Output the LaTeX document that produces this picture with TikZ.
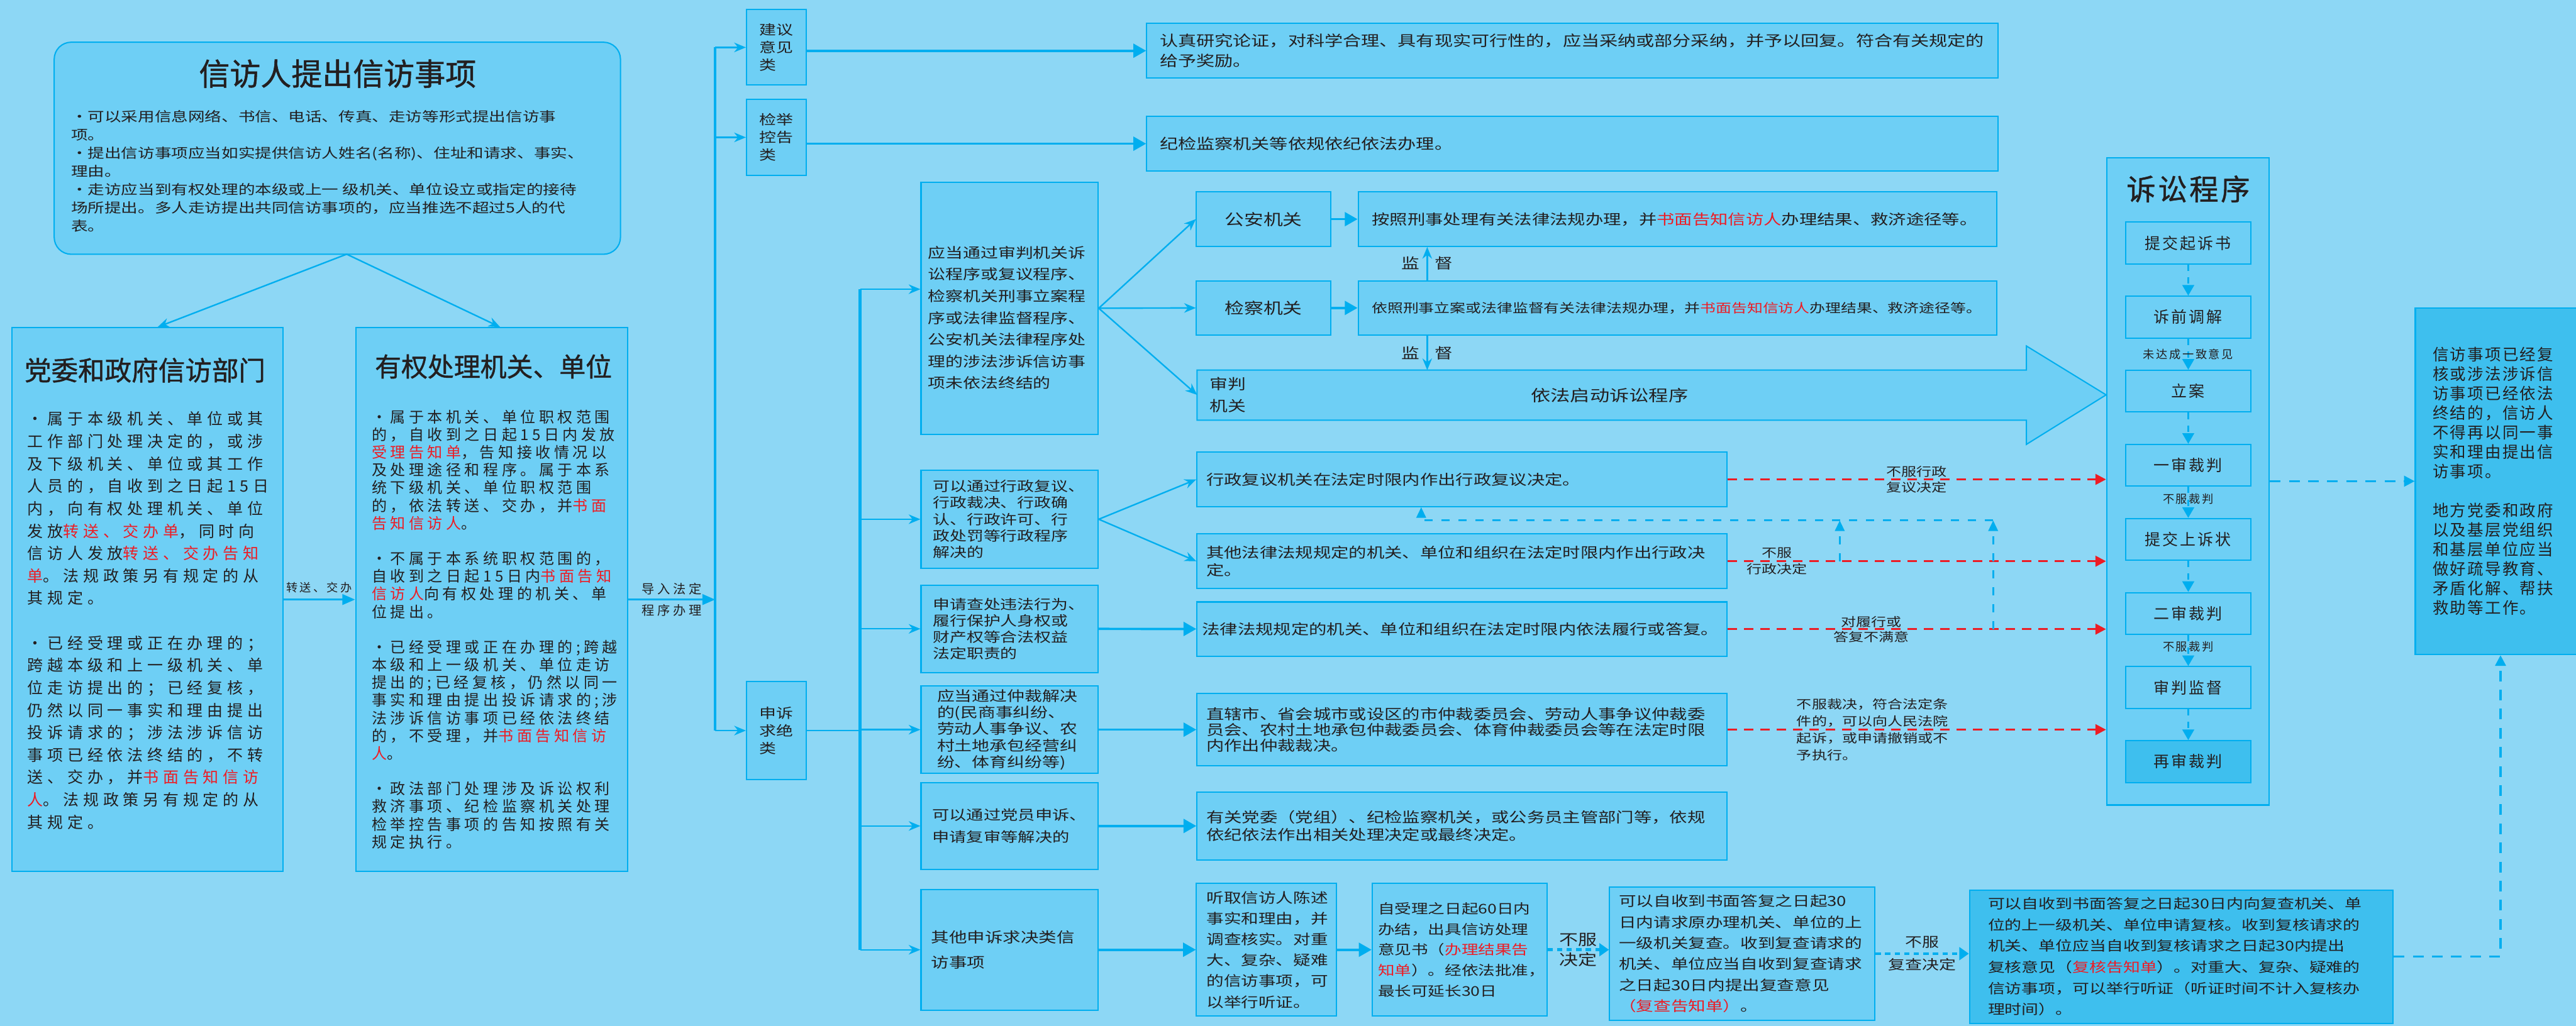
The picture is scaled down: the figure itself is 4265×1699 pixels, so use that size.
\documentclass[tikz,border=0pt]{standalone}
\usepackage{fontspec}
\setmainfont{Noto Sans CJK SC}
\newfontfamily\wfont[FakeStretch=1.25]{Noto Sans CJK SC}
\newfontfamily\nfont{Noto Sans CJK SC}
\newfontfamily\hfont[FakeBold=1]{Noto Sans CJK SC}
\usetikzlibrary{arrows.meta,positioning}
\definecolor{sky}{RGB}{141,215,245}
\definecolor{pane}{RGB}{110,207,245}
\definecolor{deep}{RGB}{62,191,238}
\definecolor{wire}{RGB}{0,174,239}
\definecolor{alert}{RGB}{237,28,36}
\definecolor{ink}{RGB}{35,31,32}
\newcommand{\wsz}[2]{\wfont\fontsize{#1pt}{#2pt}\selectfont}
\newcommand{\nsz}[3]{\nfont\addfontfeatures{LetterSpace=#3}\fontsize{#1pt}{#2pt}\selectfont}
\newcommand{\hsz}[1]{\hfont\fontsize{#1pt}{#1pt}\selectfont}
\newcommand{\hot}[1]{\textcolor{alert}{#1}}
\tikzset{
  pane/.style 2 args={draw=wire,line width=0.6pt,fill=pane,inner sep=0pt,
    minimum width=#1,minimum height=#2},
  say/.style={text=ink,align=left,inner sep=0pt},
  tag/.style={text=ink,align=center,inner sep=0pt},
  bus/.style={draw=wire,line width=1.3pt},
  fine/.style={draw=wire,line width=0.7pt,-{Stealth[length=5.5pt,width=4.5pt]}},
  blunt/.style={draw=wire,line width=0.8pt,-{Triangle[length=6pt,width=5pt]}},
  bold/.style={draw=wire,line width=1.1pt,-{Triangle[length=6pt,width=6.5pt]}},
  redrun/.style={draw=alert,line width=1pt,dash pattern=on 4.3pt off 3.4pt,
    -{Triangle[length=5pt,width=5pt]}},
  bluerun/.style={draw=wire,line width=0.9pt,dash pattern=on 3.8pt off 4.2pt,
    -{Triangle[length=5pt,width=4.5pt]}},
  steprun/.style={draw=wire,line width=0.9pt,dash pattern=on 3pt off 3pt,
    -{Triangle[length=5pt,width=5.5pt]}},
  longrun/.style={draw=wire,line width=1pt,dash pattern=on 5pt off 4pt,
    -{Triangle[length=5pt,width=5pt]}},
  dotrun/.style={draw=wire,line width=1.3pt,dash pattern=on 2.5pt off 2pt,
    -{Triangle[length=4.5pt,width=6pt]}},
}

\begin{document}
\begin{tikzpicture}[x=0.01cm,y=-0.01cm]
\useasboundingbox (0,0) rectangle (4265,1699);
\fill[sky] (0,0) rectangle (4265,1699);

% petition and the two receiving offices
\node[pane={9.37cm}{3.51cm},rounded corners=8pt] (petition) at (558.5,245.5) {};
\node[say,font={\hsz{14.5}}] (petition-h) at (559,122) {信访人提出信访事项};
\node[say,font={\wsz{6.3}{8.6}},anchor=north west] (petition-t) at (117,182)
  {・可以采用信息网络、书信、电话、传真、走访等形式提出信访事\\项。\\
   ・提出信访事项应当如实提供信访人姓名(名称)、住址和请求、事实、\\理由。\\
   ・走访应当到有权处理的本级或上一 级机关、单位设立或指定的接待\\
   场所提出。多人走访提出共同信访事项的，应当推选不超过5人的代\\表。};

\node[pane={4.48cm}{9cm}] (dept) at (244,993) {};
\node[say,font={\hsz{12.6}}] (dept-h) at (240,613) {党委和政府信访部门};
\node[say,font={\nsz{7.4}{10.55}{27}},anchor=north west] (dept-t) at (45,681)
  {・属于本级机关、单位或其\\工作部门处理决定的，或涉\\及下级机关、单位或其工作\\
   人员的，自收到之日起15日\\内，向有权处理机关、单位\\发放\hot{转送、交办单}，同时向\\
   信访人发放\hot{转送、交办告知}\\\hot{单}。法规政策另有规定的从\\其规定。\\[10.55pt]
   ・已经受理或正在办理的；\\跨越本级和上一级机关、单\\位走访提出的；已经复核，\\
   仍然以同一事实和理由提出\\投诉请求的；涉法涉诉信访\\事项已经依法终结的，不转\\
   送、交办，并\hot{书面告知信访}\\\hot{人}。法规政策另有规定的从\\其规定。};

\node[pane={4.5cm}{9cm}] (auth) at (814,993) {};
\node[say,font={\hsz{12.4}}] (auth-h) at (817,607) {有权处理机关、单位};
\node[say,font={\nsz{7.11}{8.34}{23}},anchor=north west] (auth-t) at (615,678)
  {・属于本机关、单位职权范围\\的，自收到之日起15日内发放\\\hot{受理告知单}，告知接收情况以\\
   及处理途径和程序。属于本系\\统下级机关、单位职权范围\\的，依法转送、交办，并\hot{书面}\\
   \hot{告知信访人}。\\[8.34pt]
   ・不属于本系统职权范围的，\\自收到之日起15日内\hot{书面告知}\\\hot{信访人}向有权处理的机关、单\\
   位提出。\\[8.34pt]
   ・已经受理或正在办理的;跨越\\本级和上一级机关、单位走访\\提出的;已经复核，仍然以同一\\
   事实和理由提出投诉请求的;涉\\法涉诉信访事项已经依法终结\\的，不受理，并\hot{书面告知信访}\\
   \hot{人}。\\[8.34pt]
   ・政法部门处理涉及诉讼权利\\救济事项、纪检监察机关处理\\检举控告事项的告知按照有关\\规定执行。};

\coordinate (apex) at (574,421);
\draw[fine] (apex) -- ([xshift=0.17cm]dept.north);
\draw[fine] (apex) -- ([xshift=0.14cm]auth.north);
\draw[blunt] (dept.east) -- node[tag,font={\nsz{5.4}{6}{18}},yshift=0.2cm] (pass-l) {转送、交办} (auth.west);

% three kinds of matters
\node[pane={0.99cm}{1.25cm}] (jianyi) at (1285.5,78.5) {};
\node[pane={0.99cm}{1.25cm}] (jianju) at (1285.5,227.5) {};
\node[pane={0.99cm}{1.62cm}] (shensu) at (1285.5,1210) {};
\node[say,font={\wsz{6.37}{8.25}}] (jianyi-t) at (jianyi) {建议\\意见\\类};
\node[say,font={\wsz{6.37}{8.25}}] (jianju-t) at (jianju) {检举\\控告\\类};
\node[say,font={\wsz{6.37}{8.25}}] (shensu-t) at (shensu) {申诉\\求绝\\类};

\coordinate (b1) at (1184,993);
\draw[blunt] (auth.east) -- node[tag,font={\nsz{6}{10}{24}}] (lead-l) {导入法定\\程序办理} (b1);
\draw[bus] (b1 |- jianyi.west) -- (b1 |- shensu.west);
\foreach \n in {jianyi,jianju,shensu}
  \draw[fine] (b1 |- \n.west) -- (\n.west);

\node[pane={14.09cm}{0.9cm}] (jytext) at (2603.5,84) {};
\node[say,font={\wsz{6.9}{9.4}},anchor=west] (jytext-t) at ([xshift=0.22cm]jytext.west)
  {认真研究论证，对科学合理、具有现实可行性的，应当采纳或部分采纳，并予以回复。符合有关规定的\\给予奖励。};
\node[pane={14.09cm}{0.9cm}] (jjtext) at (2603.5,238) {};
\node[say,font={\wsz{6.9}{9.4}},anchor=west] (jjtext-t) at ([xshift=0.22cm]jjtext.west) {纪检监察机关等依规依纪依法办理。};
\draw[bold] (jianyi.east |- jytext.west) -- (jytext.west);
\draw[bold] (jianju.east |- jjtext.west) -- (jjtext.west);

% appeal cases
\node[pane={2.93cm}{4.17cm}] (caseA) at (1671.5,510.5) {};
\node[pane={2.93cm}{1.62cm}] (caseB) at (1671.5,860) {};
\node[pane={2.93cm}{1.45cm}] (caseC) at (1671.5,1041.5) {};
\node[pane={2.93cm}{1.45cm}] (caseD) at (1671.5,1208.5) {};
\node[pane={2.93cm}{1.44cm}] (caseE) at (1671.5,1368) {};
\node[pane={2.93cm}{2cm}] (caseF) at (1671.5,1573) {};
\node[say,font={\wsz{6.6}{10.24}},anchor=north west] (caseA-t) at ([xshift=0.12cm,yshift=-1.06cm]caseA.north west)
  {应当通过审判机关诉\\讼程序或复议程序、\\检察机关刑事立案程\\序或法律监督程序、\\公安机关法律程序处\\理的涉法涉诉信访事\\项未依法终结的};
\node[say,font={\wsz{6.37}{7.82}},anchor=west] (caseB-t) at ([xshift=0.2cm]caseB.west)
  {可以通过行政复议、\\行政裁决、行政确\\认、行政许可、行\\政处罚等行政程序\\解决的};
\node[say,font={\wsz{6.37}{7.7}},anchor=west] (caseC-t) at ([xshift=0.2cm]caseC.west)
  {申请查处违法行为、\\履行保护人身权或\\财产权等合法权益\\法定职责的};
\node[say,font={\wsz{6.6}{7.82}},anchor=west] (caseD-t) at ([xshift=0.27cm]caseD.west)
  {应当通过仲裁解决\\的(民商事纠纷、\\劳动人事争议、农\\村土地承包经营纠\\纷、体育纠纷等)};
\node[say,font={\wsz{6.46}{10.24}},anchor=west] (caseE-t) at ([xshift=0.19cm]caseE.west)
  {可以通过党员申诉、\\申请复审等解决的};
\node[say,font={\wsz{6.77}{11.95}},anchor=west] (caseF-t) at ([xshift=0.17cm]caseF.west)
  {其他申诉求决类信\\访事项};

\coordinate (b2top) at (1424,479);
\draw (shensu.east) -- (b2top |- shensu.east) [draw=wire,line width=0.7pt];
\draw[bus] (b2top) -- (b2top |- caseF.west);
\draw[fine] (b2top) -- (b2top -| caseA.west);
\foreach \n in {caseB,caseC,caseD,caseE,caseF}
  \draw[fine] (b2top |- \n.west) -- (\n.west);

% litigation-type handling
\node[pane={2.22cm}{0.9cm}] (gongan) at (2092,363) {};
\node[pane={10.57cm}{0.9cm}] (gatext) at (2777.5,363) {};
\node[pane={2.22cm}{0.9cm}] (jiancha) at (2092,510) {};
\node[pane={10.57cm}{0.9cm}] (jctext) at (2777.5,510) {};
\node[say,font={\wsz{7.3}{9}}] (gongan-t) at (gongan) {公安机关};
\node[say,font={\wsz{7.3}{9}}] (jiancha-t) at (jiancha) {检察机关};
\node[say,font={\wsz{6.71}{8}},anchor=west] (gatext-t) at ([xshift=0.23cm]gatext.west)
  {按照刑事处理有关法律法规办理，并\hot{书面告知信访人}办理结果、救济途径等。};
\node[say,font={\wsz{5.89}{8}},anchor=west] (jctext-t) at ([xshift=0.23cm]jctext.west)
  {依照刑事立案或法律监督有关法律法规办理，并\hot{书面告知信访人}办理结果、救济途径等。};
\draw[bold] (gongan) -- (gatext);
\draw[bold] (jiancha) -- (jctext);

\draw[draw=wire,line width=0.6pt,fill=pane] (1982,613) -- (3355,613) -- (3355,573) -- (3487,654)
  -- (3355,736) -- (3355,696) -- (1982,696) -- cycle;
\coordinate (trial) at (1982,654);
\node[say,font={\wsz{6.83}{10.5}},anchor=west] (trial-a) at ([xshift=0.2cm]trial) {审判\\机关};
\node[say,font={\wsz{7.4}{9}}] (trial-b) at (2665,655) {依法启动诉讼程序};

\coordinate (jd) at (2363,613);
\draw[fine] (jd |- jctext.north) -- node[tag,font={\wsz{6.8}{8}}] (jd-up) {监\hspace{0.25cm}督} (jd |- gatext.south);
\draw[fine] (jd |- jctext.south) -- node[tag,font={\wsz{6.8}{8}}] (jd-dn) {监\hspace{0.25cm}督} (jd);

\foreach \n in {gongan,jiancha}
  \draw[fine] (caseA.east) -- (\n.west);
\draw[fine] (caseA.east) -- (trial);

% administrative and other handling
\node[pane={8.77cm}{0.9cm}] (xzfy) at (2420.5,794) {};
\node[pane={8.77cm}{0.91cm}] (qtfl) at (2420.5,929.5) {};
\node[pane={8.77cm}{0.9cm}] (lvxing) at (2420.5,1042) {};
\node[pane={8.77cm}{1.19cm}] (zhongcai) at (2420.5,1208.5) {};
\node[pane={8.77cm}{1.12cm}] (dangwei) at (2420.5,1368) {};
\node[say,font={\wsz{6.71}{8.25}},anchor=west] (xzfy-t) at ([xshift=0.16cm]xzfy.west)
  {行政复议机关在法定时限内作出行政复议决定。};
\node[say,font={\wsz{6.71}{8.25}},anchor=west] (qtfl-t) at ([xshift=0.16cm]qtfl.west)
  {其他法律法规规定的机关、单位和组织在法定时限内作出行政决\\定。};
\node[say,font={\wsz{6.71}{8.25}},anchor=west] (lvxing-t) at ([xshift=0.09cm]lvxing.west)
  {法律法规规定的机关、单位和组织在法定时限内依法履行或答复。};
\node[say,font={\wsz{6.71}{7.4}},anchor=west] (zhongcai-t) at ([xshift=0.16cm]zhongcai.west)
  {直辖市、省会城市或设区的市仲裁委员会、劳动人事争议仲裁委\\员会、农村土地承包仲裁委员会、体育仲裁委员会等在法定时限\\内作出仲裁裁决。};
\node[say,font={\wsz{6.71}{8.25}},anchor=west] (dangwei-t) at ([xshift=0.16cm]dangwei.west)
  {有关党委（党组）、纪检监察机关，或公务员主管部门等，依规\\依纪依法作出相关处理决定或最终决定。};

\foreach \n in {xzfy,qtfl}
  \draw[fine] (caseB.east) -- (\n.west);
\draw[bold] (caseC) -- (lvxing);
\draw[bold] (caseD) -- (zhongcai);
\draw[bold] (caseE) -- (dangwei);

% other appeals: review chain
\node[pane={2.32cm}{2.2cm}] (tingqu) at (2097,1573) {};
\node[pane={2.89cm}{2.2cm}] (shouli) at (2416.5,1573) {};
\node[pane={4.39cm}{2.21cm}] (fucha) at (2884.5,1579.5) {};
\node[pane={7.01cm}{2.21cm},fill=deep] (fuhe) at (3611.5,1584.5) {};
\node[say,font={\wsz{6.54}{9.84}},anchor=west] (tingqu-t) at ([xshift=0.17cm]tingqu.west)
  {听取信访人陈述\\事实和理由，并\\调查核实。对重\\大、复杂、疑难\\的信访事项，可\\以举行听证。};
\node[say,font={\wsz{6.3}{9.67}},anchor=west] (shouli-t) at ([xshift=0.1cm]shouli.west)
  {自受理之日起60日内\\办结，出具信访处理\\意见书（\hot{办理结果告}\\\hot{知单}）。经依法批准，\\最长可延长30日};
\node[say,font={\wsz{6.54}{9.87}},anchor=west] (fucha-t) at ([xshift=0.16cm]fucha.west)
  {可以自收到书面答复之日起30\\日内请求原办理机关、单位的上\\一级机关复查。收到复查请求的\\机关、单位应当自收到复查请求\\之日起30日内提出复查意见\\\hot{（复查告知单）}。};
\node[say,font={\wsz{6.37}{9.96}},anchor=west] (fuhe-t) at ([xshift=0.31cm]fuhe.west)
  {可以自收到书面答复之日起30日内向复查机关、单\\位的上一级机关、单位申请复核。收到复核请求的\\机关、单位应当自收到复核请求之日起30内提出\\复核意见（\hot{复核告知单}）。对重大、复杂、疑难的\\信访事项，可以举行听证（听证时间不计入复核办\\理时间）。};

\draw[bold] (caseF) -- (tingqu);
\draw[bold] (tingqu) -- (shouli);
\draw[dotrun] (shouli.east) -- node[tag,font={\wsz{7.1}{9.4}}] (nofu-a) {不服\\决定} (shouli.east -| fucha.west);
\draw[dotrun] (fucha.east) -- node[tag,font={\wsz{6.37}{10.5}}] (nofu-b) {不服\\复查决定} (fucha.east -| fuhe.west);

% litigation procedure
\node[pane={2.69cm}{10.71cm}] (lawsuit) at (3622.5,797.5) {};
\node[say,font={\hfont\addfontfeatures{LetterSpace=8}\fontsize{13.7pt}{16pt}\selectfont}] (lawsuit-h) at (3623,313) {诉讼程序};
\foreach \t/\c [count=\i] in {提交起诉书/pane,诉前调解/pane,立案/pane,一审裁判/pane,
    提交上诉状/pane,二审裁判/pane,审判监督/pane,再审裁判/deep}
  \node[pane={2.08cm}{0.69cm},fill=\c,text=ink,font={\nsz{7.4}{8}{12}}] (s\i) at (3623,{402.5+122.7*(\i-1)}) {\t};
\foreach \i [count=\j from 2] in {1,...,7}
  \draw[steprun] (s\i.south) -- (s\j.north);
\path (s2.south) -- node[tag,font={\nsz{5.4}{6}{14}}] (s-l1) {未达成一致意见} (s3.north);
\path (s4.south) -- node[tag,font={\nsz{5.4}{6}{14}},yshift=0.06cm] (s-l2) {不服裁判} (s5.north);
\path (s6.south) -- node[tag,font={\nsz{5.4}{6}{14}},yshift=0.06cm] (s-l3) {不服裁判} (s7.north);

\draw[redrun] (xzfy.east) -- node[tag,font={\wsz{5.7}{7.4}}] (r-l1) {不服行政\\复议决定} (xzfy.east -| lawsuit.west);
\draw[redrun] (qtfl.east) -- node[tag,font={\wsz{5.7}{7.7}},pos=0.13] (r-l2) {不服\\行政决定} (qtfl.east -| lawsuit.west);
\draw[redrun] (lvxing.east) -- node[tag,font={\wsz{5.7}{7.1}},pos=0.38] (r-l3) {对履行或\\答复不满意} (lvxing.east -| lawsuit.west);
\draw[redrun] (zhongcai.east) -- node[say,font={\wsz{5.7}{7.9}},pos=0.18,anchor=west] (r-l4)
  {不服裁决，符合法定条\\件的，可以向人民法院\\起诉，或申请撤销或不\\予执行。} (zhongcai.east -| lawsuit.west);

\coordinate (fbA) at (3046,862);
\coordinate (fbB) at (3300,862);
\coordinate (fbC) at (2353,862);
\draw[bluerun] (fbA |- qtfl.east) -- (fbA);
\draw[bluerun] (fbB |- lvxing.east) -- (fbB);
\draw[bluerun] (fbB) -- (fbC) -- (fbC |- xzfy.south);

% final result
\node[pane={2.91cm}{5.74cm},fill=deep] (result) at (4144.5,797) {};
\node[say,font={\nsz{7.54}{9.19}{9}},anchor=west] (result-t) at ([xshift=0.29cm]result.west)
  {信访事项已经复\\核或涉法涉诉信\\访事项已经依法\\终结的，信访人\\不得再以同一事\\实和理由提出信\\访事项。\\[9.19pt]
   地方党委和政府\\以及基层党组织\\和基层单位应当\\做好疏导教育、\\矛盾化解、帮扶\\救助等工作。};
\draw[longrun] (lawsuit.east |- result.west) -- (result.west);
\coordinate (turn) at (4140,1584.5);
\draw[longrun] (fuhe.east) -- (turn) -- (turn |- result.south);
\end{tikzpicture}
\end{document}
